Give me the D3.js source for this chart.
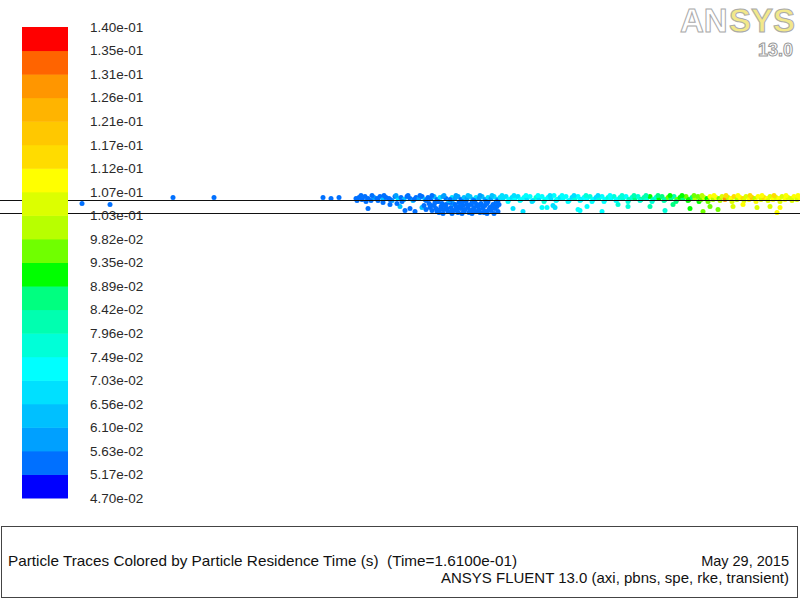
<!DOCTYPE html>
<html>
<head>
<meta charset="utf-8">
<script src="https://cdn.jsdelivr.net/npm/d3@7"></script>
<style>
    body { margin: 0; background: white; }
    svg { display: block; font-family: "Liberation Sans", Arial, sans-serif; }
</style>
</head>
<body>
<div id="chart"></div>
<script>
// residence time range of the colour map (s)
const timeMin = 0.047;
const timeMax = 0.14;

const tickLabels = [
    "4.70e-02", "5.17e-02", "5.63e-02", "6.10e-02", "6.56e-02", "7.03e-02", "7.49e-02",
    "7.96e-02", "8.42e-02", "8.89e-02", "9.35e-02", "9.82e-02", "1.03e-01", "1.07e-01",
    "1.12e-01", "1.17e-01", "1.21e-01", "1.26e-01", "1.31e-01", "1.35e-01", "1.40e-01"
];

// fluent banded rainbow, low -> high
const bandColors = [
    "#0000ff", "#0070ff", "#00a0ff", "#00c0ff", "#00e0ff", "#00ffff", "#00ffd8",
    "#00ffb0", "#00ff80", "#00ff00", "#70ff00", "#b8ff00", "#dcff00", "#ffff00",
    "#ffdc00", "#ffc800", "#ffb400", "#ff9600", "#ff6400", "#ff0000"
];

// walls (radial position, mm)
const wallRadii = [0, 6.5];

// particles: [axial x (mm), radial r (mm), residence time (s)]
const sparseParticles = [
    [41, 5, .054], [55, 4.5, .055], [86.5, 8, .056], [107, 8, .056],
    [161.5, 8, .054], [165.5, 7.5, .053], [169.5, 8, .054]
];

const bandParticlesA = [
    [178, 7.5, .053], [179.5, 8, .055], [181, 7, .054], [182.5, 8.5, .056], [184, 7.5, .053],
    [185.5, 6.5, .055], [187, 8, .06], [188.5, 7.5, .054], [190, 8.5, .056], [191.5, 7, .064],
    [193, 8, .055], [194.5, 7.5, .053], [196, 6.5, .058], [197.5, 8.5, .055], [199, 7.5, .066],
    [200.5, 8, .054], [202, 7, .061], [203.5, 8.5, .055], [205, 7.5, .054], [206.5, 6.5, .065],
    [208, 8, .055], [209.5, 7.5, .058], [211, 8.5, .053], [212.5, 7, .062], [214, 8, .055],
    [178.5, 6.5, .053], [180.5, 9, .055], [183, 6, .054], [186, 9, .056], [189, 6.5, .053],
    [192, 9, .055], [195, 7, .054], [198, 9, .058], [201, 6, .055], [204, 9, .054],
    [207, 7, .056], [210, 9, .053], [213, 6.5, .055],
    [184, 2.5, .054], [195, 4.5, .055], [200, 3.5, .064], [202.5, 1.5, .054], [205, 2.5, .055],
    [207.5, 1, .053], [211, 3, .065], [191.5, 5.5, .055], [198.5, 5, .054]
];

const bandParticlesB = [
    [215.5, 7.5, .056], [217, 8.5, .062], [218.5, 7, .055], [220, 8, .066], [221.5, 8.5, .058],
    [223, 7.5, .055], [224.5, 6.5, .061], [226, 8, .067], [227.5, 7.5, .057], [229, 8.5, .059],
    [230.5, 7, .056], [232, 8, .064], [233.5, 7.5, .058], [235, 8.5, .062], [236.5, 7, .057],
    [238, 8, .068], [239.5, 7.5, .059], [241, 8.5, .063], [242.5, 7, .058], [244, 8, .066],
    [245.5, 7.5, .06], [247, 8.5, .069], [248.5, 7, .061],
    [216, 9, .055], [219, 6, .054], [222, 9, .06], [225, 7, .055], [228, 9, .058],
    [231, 6, .054], [234, 9, .062], [237, 6.5, .055], [240, 9, .059], [243, 6, .054],
    [246, 9, .063], [249, 6.5, .056]
];

const clusterParticles = [
    [214.5, 5, .054], [215, 3, .053], [216, 1.5, .055], [217, 4, .054], [218, 2.5, .053],
    [219, 6, .056], [219.5, 0.5, .054], [220.5, 3.5, .055], [221, 5, .053], [222, 2, .054],
    [223, 4.5, .056], [224, 1, .055], [224.5, 6, .053], [225.5, 3, .054], [226.5, 5, .057],
    [227, 1.5, .054], [228, 3.5, .053], [229, 0.5, .055], [229.5, 5.5, .054], [230.5, 2.5, .056],
    [231.5, 4, .054], [232, 1, .053], [233, 6, .055], [234, 3, .054], [234.5, 0.5, .056],
    [235.5, 4.5, .054], [236.5, 2, .055], [237.5, 5.5, .053], [238, 1, .054], [239, 3.5, .056],
    [240, 0.5, .055], [240.5, 5, .054], [241.5, 2.5, .053], [242.5, 4, .055], [243, 1, .054],
    [244, 6, .056], [245, 3, .054], [245.5, 1.5, .055], [246.5, 4.5, .053], [247.5, 2.5, .054],
    [248, 5.5, .056], [249, 1, .055], [212, 4, .054], [213, 2, .055], [226, 0, .054],
    [236, 0, .055], [243.5, 0, .054], [231, 0, .056],
    [215.5, 4, .054], [217.5, 5.5, .053], [218.5, 1, .055], [220, 2, .054], [221.5, 0, .053],
    [222.5, 4, .055], [223.5, 2.5, .054], [225, 5.5, .053], [226, 1.5, .055], [227.5, 4.5, .054],
    [228.5, 2, .053], [230, 3.5, .055], [231, 5.5, .054], [232.5, 2, .053], [233.5, 4.5, .055],
    [235, 1.5, .054], [236, 5.5, .053], [237, 3, .055], [238.5, 4.5, .054], [239.5, 2, .053],
    [241, 4, .055], [242, 0.5, .054], [243.5, 5, .053], [244.5, 2, .055], [246, 3.5, .054],
    [247, 0, .053], [248.5, 3.5, .055], [249.5, 4.5, .054],
    [256.5, 2.5, .066], [261.5, 1, .068]
];

const bandParticlesC = [
    [250, 8, .068], [251.5, 7.5, .07], [253, 8.5, .066], [254.5, 7, .072], [256, 8, .069],
    [257.5, 7.5, .073], [259, 8.5, .067], [260.5, 7, .071], [262, 8, .074], [263.5, 7.5, .069],
    [265, 8.5, .072], [266.5, 6.5, .07], [268, 8, .075], [269.5, 7.5, .068], [271, 8.5, .073],
    [272.5, 7, .071], [274, 8, .074], [275.5, 7.5, .07], [277, 9, .072], [278.5, 7, .075],
    [280, 8, .069], [281.5, 7.5, .073], [283, 8.5, .071], [284.5, 6.5, .074], [286, 8, .07],
    [287.5, 7.5, .076], [289, 8.5, .072], [290.5, 7, .069], [292, 8, .074], [293.5, 7.5, .071],
    [295, 8.5, .075], [296.5, 7, .072], [298, 8, .07], [299.5, 7.5, .076], [301, 8.5, .073],
    [302.5, 7, .071], [304, 8, .075], [305.5, 7.5, .072], [307, 8.5, .077], [308.5, 7, .074],
    [251, 9, .07], [254, 6, .072], [257, 9, .068], [260, 6.5, .074], [263, 9, .071],
    [266, 6, .069], [269, 9, .073], [272, 6, .075], [275, 9, .07], [278, 6.5, .072],
    [281, 9, .074], [284, 6, .071], [287, 9, .069], [290, 6.5, .073], [293, 9, .075],
    [296, 6, .072], [299, 9, .07], [302, 6, .074], [305, 9, .073], [308, 6.5, .071],
    [271, 3, .071], [276.5, 4, .07], [289, 2, .072],
    [273.5, 3, .072], [277.5, 3, .07], [290, 1.5, .073], [293.5, 3.5, .071], [301, 1, .074],
    [309, 4.5, .075]
];

const bandParticlesD = [
    [310, 8, .076], [311.5, 7.5, .079], [313, 8.5, .074], [314.5, 7, .082], [316, 8, .077],
    [317.5, 7.5, .085], [319, 8.5, .078], [320.5, 7, .088], [322, 8, .08], [323.5, 7.5, .076],
    [325, 8.5, .09], [326.5, 7, .083], [328, 8, .079], [329.5, 7.5, .092], [331, 8.5, .086],
    [332.5, 7, .081], [334, 8, .094], [335.5, 7.5, .088], [337, 8.5, .083], [338.5, 7, .096],
    [340, 8, .09], [341.5, 7.5, .085], [343, 8.5, .098], [344.5, 7, .092], [346, 8, .087],
    [347.5, 7.5, .1], [349, 8.5, .094],
    [311, 9, .075], [314, 6, .078], [317, 9, .08], [320, 6.5, .076], [323, 9, .084],
    [326, 6, .079], [329, 9, .088], [332, 6.5, .082], [335, 9, .09], [338, 6, .086],
    [341, 9, .093], [344, 6.5, .089], [347, 9, .096], [349.5, 6, .091],
    [314, 3.5, .077], [325, 3.5, .08], [332.5, 1.5, .079], [336.5, 4.5, .088], [345, 2.5, .092]
];

const bandParticlesE = [
    [350.5, 7, .097], [352, 8, .104], [353.5, 7.5, .093], [355, 8.5, .108], [356.5, 7, .1],
    [358, 8, .112], [359.5, 7.5, .096], [361, 8.5, .106], [362.5, 7, .128], [364, 8, .102],
    [365.5, 7.5, .11], [367, 8.5, .114], [368.5, 7, .099], [370, 8, .108], [371.5, 7.5, .116],
    [373, 8.5, .104], [374.5, 7, .112], [376, 8, .118], [377.5, 7.5, .101], [379, 8.5, .11],
    [380.5, 7, .106], [382, 8, .115], [383.5, 7.5, .108], [385, 8.5, .103], [386.5, 7, .112],
    [388, 8, .106], [389.5, 7.5, .109], [391, 8.5, .104], [392.5, 7, .111], [394, 8, .107],
    [395.5, 7.5, .103], [397, 8.5, .11], [398.5, 7, .106], [400, 8, .108],
    [351, 9, .102], [354, 6, .097], [357, 9, .11], [360, 6.5, .1], [363, 9, .114],
    [366, 6, .104], [369, 9, .112], [372, 6.5, .106], [375, 9, .116], [378, 6, .108],
    [381, 9, .11], [384, 6.5, .105], [387, 9, .113], [390, 6, .107], [393, 9, .109],
    [396, 6.5, .104], [399, 9, .111],
    [351.5, 1, .094], [355, 3.5, .098], [359, 2, .096], [366.5, 3.5, .106], [371.5, 4.5, .11],
    [378.5, 3, .104], [385, 3.5, .107], [388.5, 0.5, .112], [390, 3, .109]
];

const titleText = "Particle Traces Colored by Particle Residence Time (s)  (Time=1.6100e-01)";
const dateText = "May 29, 2015";
const solverText = "ANSYS FLUENT 13.0 (axi, pbns, spe, rke, transient)";

const width = 800;
const height = 600;

const cbLeft = 22;
const cbRight = 68;
const cbTop = 27;
const cbBottom = 498;

const particles = [].concat(sparseParticles, bandParticlesA, clusterParticles,
    bandParticlesB, bandParticlesC, bandParticlesD, bandParticlesE);

const xScale = d3.scaleLinear().domain([0, 400]).range([0, width]);
const yScale = d3.scaleLinear().domain([0, 6.5]).range([213.5, 200.5]);
const colorScale = d3.scaleQuantize().domain([timeMin, timeMax]).range(bandColors);
const cbScale = d3.scaleLinear().domain([timeMin, timeMax]).range([cbBottom, cbTop]);
const labelScale = d3.scalePoint().domain(tickLabels).range([cbBottom, cbTop]);

const svg = d3.select("#chart").append("svg")
    .attr("width", width)
    .attr("height", height)
    .attr("viewBox", `0 0 ${width} ${height}`);

// particles
svg.append("g")
    .selectAll("circle")
    .data(particles)
    .join("circle")
    .attr("cx", d => xScale(d[0]))
    .attr("cy", d => yScale(d[1]))
    .attr("r", 2.5)
    .attr("fill", d => colorScale(d[2]));

// walls
svg.append("g")
    .selectAll("line")
    .data(wallRadii)
    .join("line")
    .attr("x1", 0)
    .attr("x2", width)
    .attr("y1", d => yScale(d))
    .attr("y2", d => yScale(d))
    .attr("stroke", "#111")
    .attr("stroke-width", 1);

// colour bar
const bandStep = (timeMax - timeMin) / bandColors.length;
svg.append("g")
    .selectAll("rect")
    .data(bandColors)
    .join("rect")
    .attr("x", cbLeft)
    .attr("width", cbRight - cbLeft)
    .attr("y", (d, i) => cbScale(timeMin + (i + 1) * bandStep))
    .attr("height", (d, i) => cbScale(timeMin + i * bandStep) - cbScale(timeMin + (i + 1) * bandStep) + 0.5)
    .attr("fill", d => d);

const cbAxis = svg.append("g")
    .attr("transform", `translate(${cbRight},0)`)
    .call(d3.axisRight(labelScale).tickSize(0).tickPadding(22));
cbAxis.select(".domain").remove();
cbAxis.selectAll("text")
    .attr("fill", "#2a2a2a")
    .style("font-size", "13.5px")
    .style("font-family", "\"Liberation Sans\", Arial, sans-serif");

// logo
const logo = svg.append("g")
    .attr("stroke", "#aaa")
    .attr("stroke-width", 1)
    .style("font-weight", 700);
logo.append("text")
    .attr("x", 680)
    .attr("y", 32)
    .style("font-size", "33px")
    .attr("fill", "#ffffff")
    .text("AN");
logo.append("text")
    .attr("x", 729)
    .attr("y", 32)
    .style("font-size", "33px")
    .attr("fill", "#f2e88a")
    .text("SYS");
logo.append("text")
    .attr("x", 793)
    .attr("y", 56)
    .attr("text-anchor", "end")
    .style("font-size", "18px")
    .attr("fill", "#ffffff")
    .attr("stroke", "#999")
    .text("13.0");

// footer box
const footer = svg.append("g");
footer.append("rect")
    .attr("x", 1.5)
    .attr("y", 526.5)
    .attr("width", 796)
    .attr("height", 71)
    .attr("fill", "none")
    .attr("stroke", "#444")
    .attr("stroke-width", 1);

footer.append("text")
    .attr("x", 8)
    .attr("y", 566)
    .attr("textLength", 509)
    .attr("lengthAdjust", "spacingAndGlyphs")
    .style("white-space", "pre")
    .style("font-size", "15px")
    .attr("fill", "#111")
    .text(titleText);

footer.append("text")
    .attr("x", 789)
    .attr("y", 566)
    .attr("text-anchor", "end")
    .style("font-size", "14.5px")
    .attr("fill", "#111")
    .text(dateText);

footer.append("text")
    .attr("x", 789)
    .attr("y", 583)
    .attr("text-anchor", "end")
    .attr("textLength", 348)
    .attr("lengthAdjust", "spacingAndGlyphs")
    .style("font-size", "15px")
    .attr("fill", "#111")
    .text(solverText);
</script>
</body>
</html>
